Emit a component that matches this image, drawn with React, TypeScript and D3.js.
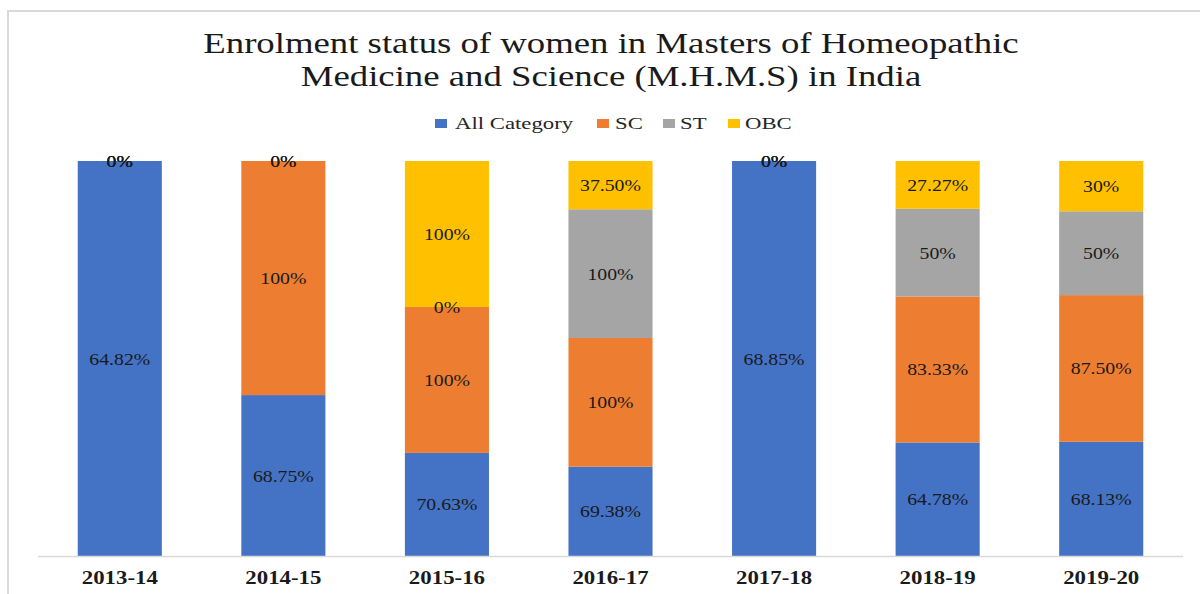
import React from "react";
import * as d3 from "d3";

const categories = ["2013-14", "2014-15", "2015-16", "2016-17", "2017-18", "2018-19", "2019-20"];
const seriesNames = ["All Category", "SC", "ST", "OBC"];
const allCategory = [64.82, 68.75, 70.63, 69.38, 68.85, 64.78, 68.13];
const sc = [0, 100, 100, 100, 0, 83.33, 87.5];
const st = [0, 0, 0, 100, 0, 50, 50];
const obc = [0, 0, 100, 37.5, 0, 27.27, 30];
const colors = ["#4472C4", "#ED7D31", "#A5A5A5", "#FFC000"];
const titleLines = ["Enrolment status of women in Masters of Homeopathic", "Medicine and Science (M.H.M.S) in India"];

const W = 1200;
const H = 594;
const FONT = "'Liberation Serif', 'Times New Roman', serif";

const fmt = (v: number) => (Number.isInteger(v) ? `${v}%` : `${v.toFixed(2)}%`);

export default function App() {
  const seriesData = [allCategory, sc, st, obc];
  const rows = categories.map((c, i) => {
    const r: any = { cat: c };
    seriesNames.forEach((s, k) => (r[s] = seriesData[k][i]));
    return r;
  });
  const stack = d3.stack<any>().keys(seriesNames).offset(d3.stackOffsetExpand);
  const layers = stack(rows);

  const x = d3.scaleBand<string>().domain(categories).range([38, 1183]).paddingInner(0.486).paddingOuter(0.243);
  const y = d3.scaleLinear().domain([0, 1]).range([556, 161]);

  const legendX = [435, 597, 663, 728];
  const legendTextX = [455, 615, 680, 745];

  return (
    <svg width={W} height={H} style={{ position: "absolute", left: 0, top: 0, background: "#fff" }} fontFamily={FONT}>
      <rect x={0} y={0} width={W} height={H} fill="#fff" />
      <rect x={8} y={11} width={W + 20} height={H + 20} fill="none" stroke="#d9d9d9" strokeWidth={2} />
      {titleLines.map((t, i) => (
        <text key={i} transform={`translate(611,${53 + i * 33}) scale(1.29,1)`} textAnchor="middle" fontSize={28.5} fill="#1a1a1a">
          {t}
        </text>
      ))}
      {seriesNames.map((s, k) => (
        <g key={s}>
          <rect x={legendX[k]} y={119} width={12} height={9} fill={colors[k]} />
          <text transform={`translate(${legendTextX[k]},128.5) scale(1.3,1)`} fontSize={17.5} fill="#262626">
            {s}
          </text>
        </g>
      ))}
      {layers.map((layer, k) => (
        <g key={layer.key} fill={colors[k]}>
          {layer.map((d, i) => (
            <rect key={i} x={x(categories[i])} y={y(d[1])} width={x.bandwidth()} height={Math.max(0, y(d[0]) - y(d[1]))} />
          ))}
        </g>
      ))}
      {layers.map((layer, k) => (
        <g key={"l" + layer.key}>
          {layer.map((d, i) => {
            const v = seriesData[k][i];
            const cy = (y(d[0]) + y(d[1])) / 2;
            return (
              <text key={i} transform={`translate(${x(categories[i])! + x.bandwidth() / 2},${cy + 6}) scale(1.13,1)`} textAnchor="middle" fontSize={17.5} fill="#1a1a1a">
                {fmt(v)}
              </text>
            );
          })}
        </g>
      ))}
      <line x1={38} x2={1183} y1={556.5} y2={556.5} stroke="#d9d9d9" strokeWidth={1.5} />
      {categories.map((c) => (
        <text key={c} transform={`translate(${x(c)! + x.bandwidth() / 2},584) scale(1.27,1)`} textAnchor="middle" fontSize={18} fontWeight="bold" fill="#1a1a1a">
          {c}
        </text>
      ))}
    </svg>
  );
}
